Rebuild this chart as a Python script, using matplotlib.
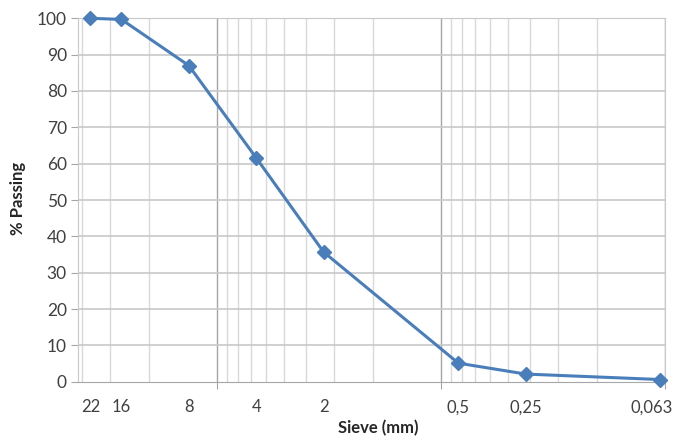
import matplotlib
matplotlib.use("Agg")
import matplotlib.pyplot as plt
from matplotlib.ticker import FixedLocator, NullFormatter
import numpy as np

sieve = [22, 16, 8, 4, 2, 0.5, 0.25, 0.063]
sieve_labels = ["22", "16", "8", "4", "2", "0,5", "0,25", "0,063"]
passing = [100, 99.7, 87.0, 61.6, 35.7, 5.1, 2.1, 0.6]
y_ticks = [0, 10, 20, 30, 40, 50, 60, 70, 80, 90, 100]

plt.rcParams['font.family'] = ['Lato', 'DejaVu Sans']

fig = plt.figure(figsize=(6.76, 4.40), dpi=100)
ax = fig.add_axes([0.1154, 0.1325, 0.8676, 0.8259])

ax.set_xscale('log')
ax.set_xlim(25, 0.06)
ax.set_ylim(0, 100)

# grid lines: majors at 0.06, 0.6, 6, 60 ; minors at multiples
majors = [0.06, 0.6, 6, 60]
minors = []
for m in [0.06, 0.6, 6]:
    for k in range(2, 10):
        v = m * k
        if v < 25:
            minors.append(v)
for v in minors:
    ax.axvline(v, color='#d9d9d9', lw=1.0, zorder=1)
for v in majors:
    ax.axvline(v, color='#a6a6a6', lw=1.0, zorder=1)
for y in y_ticks[1:]:
    ax.axhline(y, color='#c8c8c8', lw=1.2, zorder=1)

ax.xaxis.set_major_locator(FixedLocator(majors))
ax.xaxis.set_major_formatter(NullFormatter())
ax.xaxis.set_minor_locator(FixedLocator(sieve))
ax.xaxis.set_minor_formatter(NullFormatter())
ax.tick_params(axis='x', which='major', length=5, color='#a6a6a6', direction='out')
ax.tick_params(axis='x', which='minor', length=0)

n = len(sieve)
for i, (s, lab) in enumerate(zip(sieve, sieve_labels)):
    dx = -6 if i == n - 1 else 0
    ax.annotate(lab, xy=(s, 0), xycoords='data', xytext=(dx, -18.5),
                textcoords='offset points', ha='center', va='center',
                fontsize=12, color='#404040', annotation_clip=False)

ax.set_yticks(y_ticks)
ax.set_yticklabels([str(v) for v in y_ticks])
ax.tick_params(axis='y', length=5, color='#a6a6a6', labelsize=12.5, labelcolor='#404040', pad=3)

for side in ['top', 'right', 'left']:
    ax.spines[side].set_color('#c8c8c8')
ax.spines['bottom'].set_color('#a6a6a6')

ax.plot(sieve, passing, color='#4a7ebb', lw=2.2, marker='D', markersize=7.5,
        markerfacecolor='#4a7ebb', markeredgecolor='#4a7ebb', zorder=5, clip_on=False)

fig.text(0.56, 0.027, 'Sieve (mm)', fontsize=12, fontweight='bold', color='#262626',
         ha='center', va='center')
fig.text(0.027, 0.55, '% Passing', fontsize=12, fontweight='bold', color='#262626',
         ha='center', va='center', rotation=90)

fig.savefig('out.png', dpi=100)
